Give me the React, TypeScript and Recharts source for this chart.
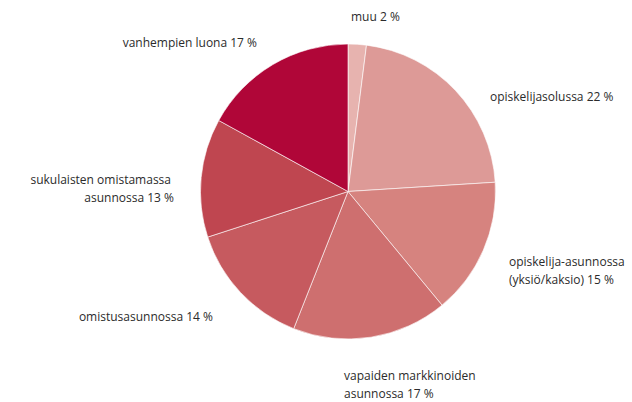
import React from "react";
import { PieChart, Pie, Cell } from "recharts";

// asumismuodot
const categories = [
  "muu",
  "opiskelijasolussa",
  "opiskelija-asunnossa",
  "vapaiden markkinoiden",
  "omistusasunnossa",
  "sukulaisten omistamassa",
  "vanhempien luona",
];
const values = [2, 22, 15, 17, 14, 13, 17];
const labelLines = [
  ["muu 2 %"],
  ["opiskelijasolussa 22 %"],
  ["opiskelija-asunnossa", "(yksiö/kaksio) 15 %"],
  ["vapaiden markkinoiden", "asunnossa 17 %"],
  ["omistusasunnossa 14 %"],
  ["sukulaisten omistamassa", "asunnossa 13 %"],
  ["vanhempien luona 17 %"],
];
const colors = [
  "#e7b3af",
  "#dd9a97",
  "#d6837f",
  "#ce6f6f",
  "#c65a5f",
  "#bf4650",
  "#b00638",
];

// label placement relative to pie centre
const labelPos = [
  { dx: 3, dy: -176, anchor: "start" },
  { dx: 142, dy: -96, anchor: "start" },
  { dx: 161, dy: 69, anchor: "start" },
  { dx: -4, dy: 183, anchor: "start" },
  { dx: -135, dy: 124, anchor: "end" },
  { dx: -177, dy: -13, anchor: "end" },
  { dx: -91, dy: -150, anchor: "end" },
];

const data = categories.map((name, i) => ({ name, value: values[i] }));

const renderLabel = (props: any) => {
  const { cx, cy, index } = props;
  const p = labelPos[index];
  const lines = labelLines[index];
  return (
    <text
      x={cx + p.dx}
      y={cy + p.dy}
      textAnchor={p.anchor}
      dominantBaseline="central"
      fill="#2b2b2b"
      fontSize={12}
      fontFamily="'Open Sans', sans-serif"
    >
      {lines.map((l, j) => (
        <tspan
          key={j}
          x={cx + p.dx - (p.anchor === "end" && j > 0 ? -3 : 0)}
          dy={j === 0 ? 0 : 18}
        >
          {l}
        </tspan>
      ))}
    </text>
  );
};

const App: React.FC = () => {
  return (
    <div style={{ position: "absolute", left: 0, top: 0, background: "#fff" }}>
      <PieChart width={632} height={402} margin={{ top: 0, right: 0, bottom: 0, left: 0 }}>
        <Pie
          data={data}
          dataKey="value"
          nameKey="name"
          cx={348}
          cy={191.5}
          outerRadius={147.5}
          startAngle={90}
          endAngle={-270}
          stroke="#fff"
          strokeWidth={0.6}
          label={renderLabel}
          labelLine={false}
          isAnimationActive={false}
        >
          {data.map((d, i) => (
            <Cell key={d.name} fill={colors[i]} />
          ))}
        </Pie>
      </PieChart>
    </div>
  );
};

export default App;
